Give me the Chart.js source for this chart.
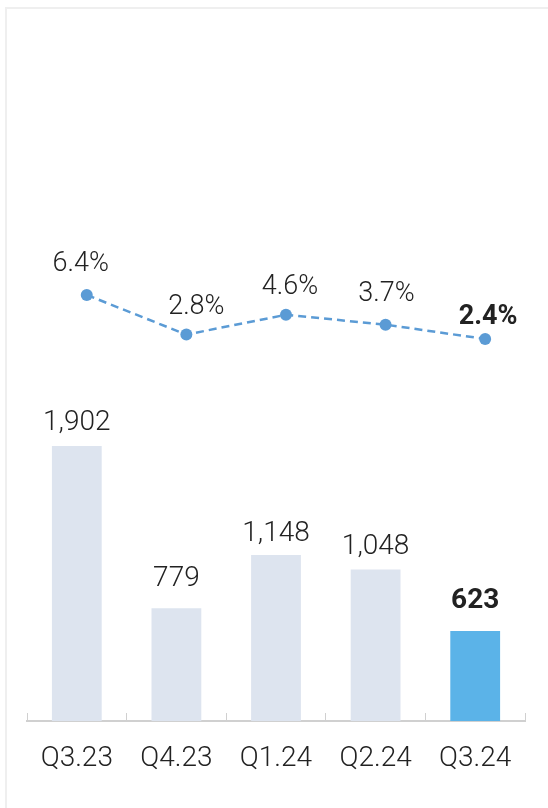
<!DOCTYPE html>
<html>
<head>
<meta charset="utf-8">
<script src="https://cdn.jsdelivr.net/npm/chart.js@4/dist/chart.umd.min.js"></script>
<style>
  html, body { margin: 0; padding: 0; background: #fff; }
  #wrap { position: relative; width: 548px; height: 808px; overflow: hidden; }
  #frame { position: absolute; left: 5px; top: 7px; width: 600px; height: 900px;
           border-left: 2px solid #efefef; border-top: 2px solid #efefef; }
  #c { position: absolute; left: 0; top: 0; }
</style>
</head>
<body>
<div id="wrap">
  <div id="frame"></div>
  <canvas id="c" width="548" height="808"></canvas>
</div>
<script>
// data
var quarters = ['Q3.23', 'Q4.23', 'Q1.24', 'Q2.24', 'Q3.24'];
var amounts = [1902, 779, 1148, 1048, 623];
var rates = [6.4, 2.8, 4.6, 3.7, 2.4];

var lastIdx = quarters.length - 1;
var fontFamily = 'Roboto, "Liberation Sans", sans-serif';

// value labels drawn above bars and points
var valueLabels = {
    id: 'valueLabels',
    afterDatasetsDraw: function (chart) {
        var ctx = chart.ctx;
        ctx.save();
        ctx.textAlign = 'center';
        ctx.textBaseline = 'alphabetic';
        ctx.fillStyle = '#222222';

        var barLift = [16, 22, 14, 15, 23];
        var bars = chart.getDatasetMeta(1).data;
        bars.forEach(function (el, i) {
            ctx.font = (i === lastIdx ? 'bold ' : '300 ') + '28px ' + fontFamily;
            ctx.fillText(amounts[i].toLocaleString('en-US'), el.x, el.y - barLift[i]);
        });

        var lift = [24, 21, 21, 24, 15];
        var shift = [-6, 10, 4, 1, 3];
        var pts = chart.getDatasetMeta(0).data;
        pts.forEach(function (el, i) {
            ctx.font = (i === lastIdx ? 'bold ' : '300 ') + '27px ' + fontFamily;
            ctx.fillText(rates[i].toFixed(1) + '%', el.x + shift[i], el.y - lift[i]);
        });
        ctx.restore();
    }
};

var ctx = document.getElementById('c').getContext('2d');
new Chart(ctx, {
    type: 'bar',
    data: {
        labels: quarters,
        datasets: [{
            type: 'line',
            data: rates.map(function (v, i) { return { x: i, y: v }; }),
            xAxisID: 'x2',
            yAxisID: 'y1',
            borderColor: '#5b9bd5',
            borderWidth: 2.5,
            borderDash: [8, 5],
            pointRadius: 6,
            pointBackgroundColor: '#5b9bd5',
            pointBorderWidth: 0,
            tension: 0,
            order: 0
        }, {
            type: 'bar',
            data: amounts,
            xAxisID: 'x',
            yAxisID: 'y',
            backgroundColor: amounts.map(function (v, i) {
                return i === lastIdx ? '#5bb3e8' : '#dde4ef';
            }),
            borderWidth: 0,
            grouped: false,
            categoryPercentage: 1,
            barPercentage: 0.5,
            order: 1
        }]
    },
    options: {
        responsive: false,
        animation: false,
        layout: { padding: { top: 40, left: 27, right: 23, bottom: 0 } },
        plugins: { legend: { display: false }, tooltip: { enabled: false } },
        scales: {
            x: {
                offset: true,
                grid: { offset: true, drawOnChartArea: false, color: '#d0d0d0', tickLength: -8, lineWidth: 1 },
                border: { color: '#d0d0d0', width: 2 },
                ticks: { color: '#222222', font: { family: fontFamily, size: 28, weight: '300' }, padding: 29, maxRotation: 0 },
                afterFit: function (scale) { scale.height = 87; }
            },
            x2: { type: 'linear', display: false, offset: false, grid: { offset: false }, min: -0.6, max: 4.4 },
            y: { display: false, min: 0, max: 4710 },
            y1: { display: false, min: -32.33, max: 29.58 }
        }
    },
    plugins: [valueLabels]
});
</script>
</body>
</html>
